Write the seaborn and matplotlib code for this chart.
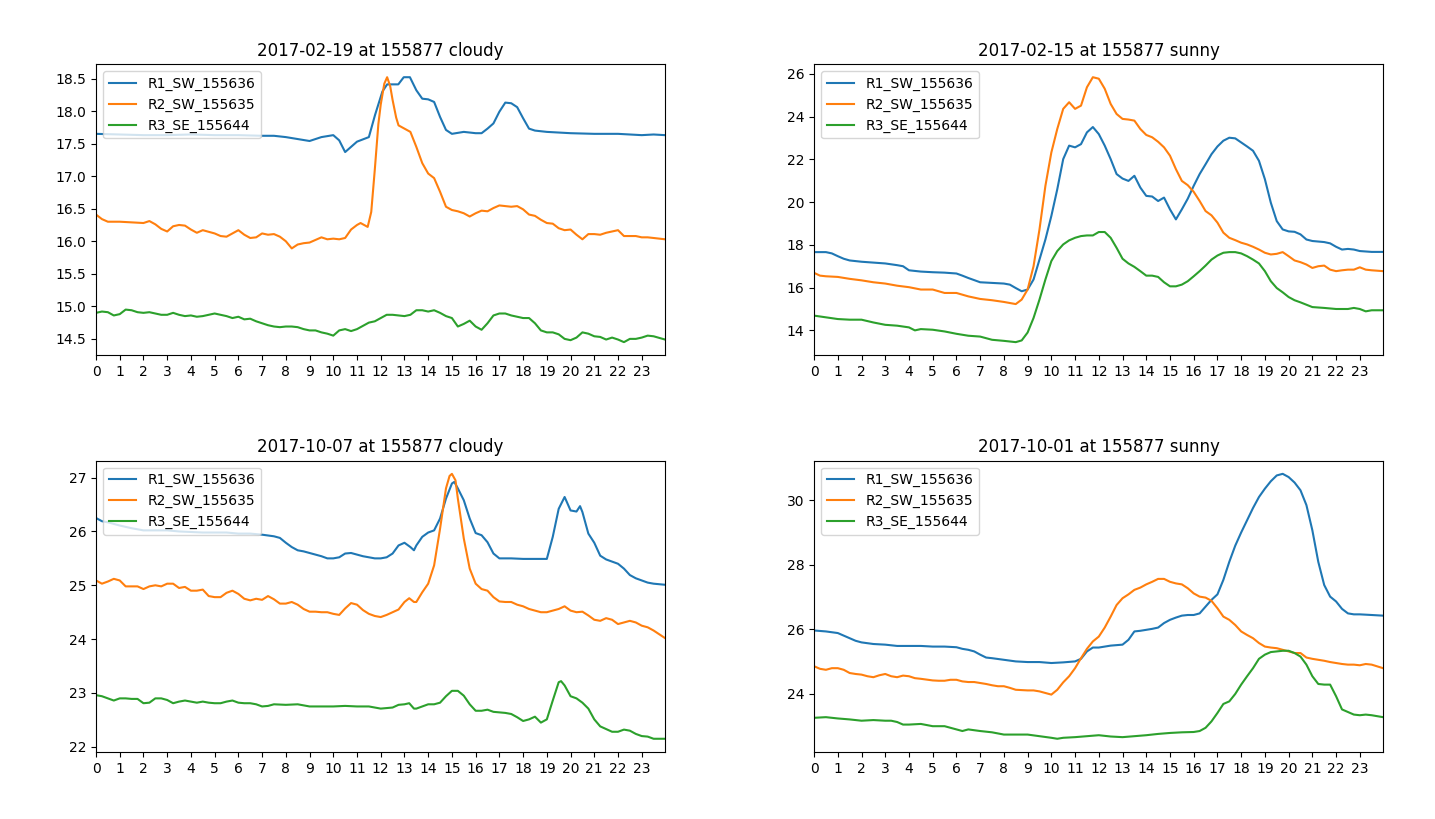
import numpy as np
import pandas as pd
import matplotlib
matplotlib.use("Agg")
import matplotlib.pyplot as plt
import seaborn as sns

SERIES_NAMES = ["R1_SW_155636", "R2_SW_155635", "R3_SE_155644"]
TITLES = ["2017-02-19 at 155877 cloudy", "2017-02-15 at 155877 sunny",
          "2017-10-07 at 155877 cloudy", "2017-10-01 at 155877 sunny"]
HOUR_TICKS = list(range(24))

# ---- Panel 1: 2017-02-19 cloudy  (hour, value) ----
P1_R1 = [(0, 17.65), (1, 17.64), (2, 17.63), (3, 17.63), (4, 17.64), (5, 17.63), (6, 17.63),
         (7, 17.62), (7.5, 17.62), (8, 17.60), (8.5, 17.57), (9, 17.54), (9.5, 17.60), (10, 17.63),
         (10.25, 17.55), (10.5, 17.37), (11, 17.53), (11.5, 17.60), (11.76, 17.94), (12.07, 18.30),
         (12.27, 18.41), (12.5, 18.41), (12.74, 18.41), (12.97, 18.52), (13.23, 18.52), (13.5, 18.32),
         (13.75, 18.19), (14, 18.18), (14.25, 18.14), (14.5, 17.91), (14.75, 17.71), (15, 17.65),
         (15.5, 17.68), (16, 17.66), (16.25, 17.66), (16.5, 17.73), (16.75, 17.81), (17, 17.99),
         (17.25, 18.13), (17.5, 18.12), (17.75, 18.06), (18, 17.89), (18.25, 17.73), (18.5, 17.70),
         (19, 17.68), (20, 17.66), (21, 17.65), (22, 17.65), (23, 17.63), (23.5, 17.64), (23.98, 17.63)]
P1_R2 = [(0, 16.41), (0.25, 16.34), (0.5, 16.30), (1, 16.30), (1.5, 16.29), (2, 16.28), (2.25, 16.31),
         (2.5, 16.26), (2.75, 16.19), (3, 16.15), (3.25, 16.23), (3.5, 16.25), (3.75, 16.24), (4, 16.18),
         (4.25, 16.13), (4.5, 16.17), (5, 16.12), (5.25, 16.08), (5.5, 16.07), (5.75, 16.12), (6, 16.17),
         (6.25, 16.10), (6.5, 16.05), (6.75, 16.06), (7, 16.12), (7.25, 16.10), (7.5, 16.11), (7.75, 16.07),
         (8, 16.00), (8.25, 15.89), (8.5, 15.95), (8.75, 15.97), (9, 15.98), (9.25, 16.02), (9.5, 16.06),
         (9.75, 16.03), (10, 16.04), (10.25, 16.03), (10.5, 16.05), (10.75, 16.18), (11, 16.25),
         (11.15, 16.28), (11.45, 16.22), (11.6, 16.45), (11.75, 17.10), (11.9, 17.80), (12.0, 18.10),
         (12.15, 18.42), (12.27, 18.52), (12.4, 18.38), (12.5, 18.17), (12.65, 17.90), (12.75, 17.78),
         (13, 17.73), (13.25, 17.68), (13.5, 17.45), (13.75, 17.20), (14, 17.04), (14.25, 16.97),
         (14.5, 16.76), (14.75, 16.53), (15, 16.48), (15.25, 16.46), (15.5, 16.43), (15.75, 16.38),
         (16, 16.43), (16.25, 16.47), (16.5, 16.46), (16.75, 16.51), (17, 16.55), (17.25, 16.54),
         (17.5, 16.53), (17.75, 16.54), (18, 16.49), (18.25, 16.41), (18.5, 16.39), (18.75, 16.33),
         (19, 16.28), (19.25, 16.27), (19.5, 16.20), (19.75, 16.17), (20, 16.18), (20.25, 16.10),
         (20.5, 16.03), (20.75, 16.11), (21, 16.11), (21.25, 16.10), (21.5, 16.13), (21.75, 16.15),
         (22, 16.17), (22.25, 16.08), (22.5, 16.08), (22.75, 16.08), (23, 16.06), (23.25, 16.06),
         (23.5, 16.05), (23.98, 16.03)]
P1_R3 = [(0, 14.90), (0.25, 14.92), (0.5, 14.91), (0.75, 14.86), (1, 14.88), (1.25, 14.95), (1.5, 14.94),
         (1.75, 14.91), (2, 14.90), (2.25, 14.91), (2.5, 14.89), (2.75, 14.87), (3, 14.87), (3.25, 14.90),
         (3.5, 14.87), (3.75, 14.85), (4, 14.86), (4.25, 14.84), (4.5, 14.85), (4.75, 14.87), (5, 14.89),
         (5.25, 14.87), (5.5, 14.85), (5.75, 14.82), (6, 14.84), (6.25, 14.80), (6.5, 14.81), (6.75, 14.77),
         (7, 14.74), (7.25, 14.71), (7.5, 14.69), (7.75, 14.68), (8, 14.69), (8.25, 14.69), (8.5, 14.68),
         (8.75, 14.65), (9, 14.63), (9.25, 14.63), (9.5, 14.60), (9.75, 14.58), (10, 14.55), (10.25, 14.63),
         (10.5, 14.65), (10.75, 14.62), (11, 14.65), (11.25, 14.70), (11.5, 14.75), (11.75, 14.77),
         (12, 14.82), (12.25, 14.87), (12.5, 14.87), (12.75, 14.86), (13, 14.85), (13.25, 14.87),
         (13.5, 14.94), (13.75, 14.94), (14, 14.92), (14.25, 14.94), (14.5, 14.90), (14.75, 14.85),
         (15, 14.82), (15.25, 14.69), (15.5, 14.73), (15.75, 14.78), (16, 14.69), (16.25, 14.64),
         (16.5, 14.74), (16.75, 14.86), (17, 14.89), (17.25, 14.89), (17.5, 14.86), (17.75, 14.84),
         (18, 14.82), (18.25, 14.82), (18.5, 14.74), (18.75, 14.63), (19, 14.60), (19.25, 14.60),
         (19.5, 14.57), (19.75, 14.50), (20, 14.48), (20.25, 14.52), (20.5, 14.60), (20.75, 14.58),
         (21, 14.54), (21.25, 14.53), (21.5, 14.49), (21.75, 14.52), (22, 14.49), (22.25, 14.45),
         (22.5, 14.50), (22.75, 14.50), (23, 14.52), (23.25, 14.55), (23.5, 14.54), (23.98, 14.49)]

# ---- Panel 2: 2017-02-15 sunny ----
P2_R1 = [(0, 17.66), (0.5, 17.66), (0.75, 17.60), (1, 17.47), (1.25, 17.35), (1.5, 17.27), (2, 17.21),
         (2.5, 17.17), (3, 17.13), (3.5, 17.05), (3.75, 17.00), (4, 16.81), (4.5, 16.75), (5, 16.72),
         (5.5, 16.70), (6, 16.66), (6.25, 16.56), (6.5, 16.45), (7, 16.25), (7.5, 16.22), (8, 16.19),
         (8.25, 16.14), (8.5, 15.98), (8.75, 15.83), (9, 15.91), (9.25, 16.38), (9.5, 17.31), (9.75, 18.25),
         (10, 19.35), (10.25, 20.60), (10.5, 22.01), (10.75, 22.64), (11, 22.56), (11.25, 22.71),
         (11.5, 23.26), (11.75, 23.51), (12, 23.18), (12.25, 22.64), (12.5, 22.01), (12.75, 21.31),
         (13, 21.10), (13.25, 20.99), (13.5, 21.23), (13.75, 20.68), (14, 20.29), (14.25, 20.26),
         (14.5, 20.05), (14.75, 20.21), (15, 19.66), (15.25, 19.19), (15.5, 19.66), (15.75, 20.16),
         (16, 20.76), (16.25, 21.31), (16.5, 21.77), (16.75, 22.24), (17, 22.60), (17.25, 22.87),
         (17.5, 23.01), (17.75, 22.98), (18, 22.79), (18.25, 22.60), (18.5, 22.40), (18.75, 21.93),
         (19, 21.07), (19.25, 19.97), (19.5, 19.11), (19.75, 18.72), (20, 18.63), (20.25, 18.61),
         (20.5, 18.49), (20.75, 18.25), (21, 18.18), (21.5, 18.13), (21.75, 18.07), (22, 17.91),
         (22.25, 17.78), (22.5, 17.81), (22.75, 17.78), (23, 17.71), (23.5, 17.67), (23.98, 17.67)]
P2_R2 = [(0, 16.69), (0.25, 16.56), (0.5, 16.53), (1, 16.50), (1.5, 16.41), (2, 16.34), (2.5, 16.25),
         (3, 16.19), (3.5, 16.09), (4, 16.02), (4.5, 15.91), (5, 15.91), (5.5, 15.75), (6, 15.75),
         (6.5, 15.59), (7, 15.47), (7.5, 15.41), (8, 15.33), (8.5, 15.23), (8.75, 15.44), (9, 15.91),
         (9.25, 17.00), (9.5, 18.72), (9.75, 20.76), (10, 22.32), (10.25, 23.42), (10.5, 24.36),
         (10.75, 24.67), (11, 24.36), (11.25, 24.51), (11.5, 25.37), (11.75, 25.84), (12, 25.77),
         (12.25, 25.30), (12.5, 24.59), (12.75, 24.12), (13, 23.89), (13.25, 23.86), (13.5, 23.81),
         (13.75, 23.42), (14, 23.14), (14.25, 23.03), (14.5, 22.82), (14.75, 22.56), (15, 22.17),
         (15.25, 21.54), (15.5, 20.99), (15.75, 20.79), (16, 20.48), (16.25, 20.05), (16.5, 19.58),
         (16.75, 19.38), (17, 19.04), (17.25, 18.57), (17.5, 18.33), (17.75, 18.22), (18, 18.10),
         (18.25, 18.02), (18.5, 17.91), (18.75, 17.78), (19, 17.63), (19.25, 17.55), (19.5, 17.58),
         (19.75, 17.66), (20, 17.47), (20.25, 17.27), (20.5, 17.19), (20.75, 17.08), (21, 16.92),
         (21.25, 17.00), (21.5, 17.03), (21.75, 16.84), (22, 16.77), (22.25, 16.81), (22.5, 16.84),
         (22.75, 16.84), (23, 16.95), (23.25, 16.84), (23.5, 16.81), (23.98, 16.77)]
P2_R3 = [(0, 14.69), (0.5, 14.61), (1, 14.53), (1.5, 14.50), (2, 14.50), (2.5, 14.37), (3, 14.26),
         (3.5, 14.22), (4, 14.14), (4.25, 14.00), (4.5, 14.06), (5, 14.03), (5.5, 13.95), (6, 13.84),
         (6.5, 13.75), (7, 13.71), (7.5, 13.56), (8, 13.51), (8.5, 13.45), (8.75, 13.53), (9, 13.90),
         (9.25, 14.58), (9.5, 15.44), (9.75, 16.38), (10, 17.24), (10.25, 17.71), (10.5, 18.02),
         (10.75, 18.21), (11, 18.33), (11.25, 18.41), (11.5, 18.44), (11.75, 18.44), (12, 18.60),
         (12.25, 18.60), (12.5, 18.33), (12.75, 17.86), (13, 17.35), (13.25, 17.13), (13.5, 16.97),
         (13.75, 16.77), (14, 16.56), (14.25, 16.56), (14.5, 16.50), (14.75, 16.25), (15, 16.06),
         (15.25, 16.06), (15.5, 16.14), (15.75, 16.30), (16, 16.53), (16.25, 16.77), (16.5, 17.03),
         (16.75, 17.31), (17, 17.50), (17.25, 17.63), (17.5, 17.66), (17.75, 17.66), (18, 17.60),
         (18.25, 17.47), (18.5, 17.31), (18.75, 17.13), (19, 16.77), (19.25, 16.30), (19.5, 15.98),
         (19.75, 15.78), (20, 15.56), (20.25, 15.41), (20.5, 15.31), (20.75, 15.20), (21, 15.09),
         (21.5, 15.05), (22, 15.00), (22.5, 15.00), (22.75, 15.05), (23, 15.00), (23.25, 14.89),
         (23.5, 14.94), (23.98, 14.94)]

# ---- Panel 3: 2017-10-07 cloudy ----
P3_R1 = [(0, 26.25), (0.25, 26.19), (0.5, 26.17), (1, 26.11), (1.5, 26.06), (2, 26.02), (2.5, 26.02),
         (3, 26.02), (3.5, 26.00), (4, 25.99), (4.5, 25.98), (5, 25.98), (5.5, 25.98), (6, 25.96),
         (6.5, 25.96), (7, 25.94), (7.5, 25.91), (7.75, 25.88), (8, 25.79), (8.25, 25.71), (8.5, 25.65),
         (8.75, 25.63), (9, 25.60), (9.25, 25.57), (9.5, 25.54), (9.75, 25.50), (10, 25.50), (10.25, 25.52),
         (10.5, 25.59), (10.75, 25.60), (11, 25.57), (11.25, 25.54), (11.5, 25.52), (11.75, 25.50),
         (12, 25.50), (12.25, 25.52), (12.5, 25.59), (12.75, 25.74), (13, 25.79), (13.25, 25.71),
         (13.4, 25.65), (13.5, 25.74), (13.75, 25.90), (14, 25.98), (14.25, 26.02), (14.5, 26.24),
         (14.75, 26.61), (15, 26.89), (15.1, 26.92), (15.25, 26.80), (15.5, 26.58), (15.75, 26.24),
         (16, 25.97), (16.25, 25.93), (16.5, 25.80), (16.75, 25.59), (17, 25.50), (17.5, 25.50),
         (18, 25.49), (18.5, 25.49), (19, 25.49), (19.25, 25.90), (19.5, 26.42), (19.75, 26.64),
         (20, 26.39), (20.25, 26.37), (20.4, 26.47), (20.5, 26.36), (20.75, 25.96), (21, 25.79),
         (21.25, 25.55), (21.5, 25.48), (21.75, 25.44), (22, 25.40), (22.25, 25.31), (22.5, 25.19),
         (22.75, 25.13), (23, 25.09), (23.25, 25.05), (23.5, 25.03), (23.98, 25.01)]
P3_R2 = [(0, 25.09), (0.25, 25.03), (0.5, 25.07), (0.75, 25.12), (1, 25.09), (1.25, 24.98), (1.5, 24.98),
         (1.75, 24.98), (2, 24.93), (2.25, 24.98), (2.5, 25.00), (2.75, 24.98), (3, 25.03), (3.25, 25.03),
         (3.5, 24.95), (3.75, 24.97), (4, 24.90), (4.25, 24.90), (4.5, 24.92), (4.75, 24.80), (5, 24.78),
         (5.25, 24.78), (5.5, 24.86), (5.75, 24.90), (6, 24.84), (6.25, 24.75), (6.5, 24.72), (6.75, 24.75),
         (7, 24.73), (7.25, 24.80), (7.5, 24.74), (7.75, 24.66), (8, 24.66), (8.25, 24.69), (8.5, 24.64),
         (8.75, 24.56), (9, 24.51), (9.25, 24.51), (9.5, 24.50), (9.75, 24.50), (10, 24.47), (10.25, 24.45),
         (10.5, 24.57), (10.75, 24.67), (11, 24.64), (11.25, 24.54), (11.5, 24.47), (11.75, 24.43),
         (12, 24.41), (12.25, 24.45), (12.5, 24.50), (12.75, 24.55), (13, 24.69), (13.2, 24.76),
         (13.4, 24.69), (13.5, 24.69), (13.75, 24.87), (14, 25.03), (14.25, 25.37), (14.5, 26.05),
         (14.75, 26.80), (14.9, 27.03), (15, 27.07), (15.15, 26.95), (15.25, 26.61), (15.5, 25.87),
         (15.75, 25.31), (16, 25.03), (16.25, 24.93), (16.5, 24.90), (16.75, 24.78), (17, 24.70),
         (17.25, 24.69), (17.5, 24.69), (17.75, 24.64), (18, 24.61), (18.25, 24.56), (18.5, 24.53),
         (18.75, 24.50), (19, 24.50), (19.25, 24.53), (19.5, 24.56), (19.75, 24.61), (20, 24.53),
         (20.25, 24.50), (20.5, 24.51), (20.75, 24.44), (21, 24.36), (21.25, 24.34), (21.5, 24.39),
         (21.75, 24.36), (22, 24.28), (22.25, 24.31), (22.5, 24.34), (22.75, 24.31), (23, 24.25),
         (23.25, 24.22), (23.5, 24.16), (23.98, 24.02)]
P3_R3 = [(0, 22.96), (0.25, 22.94), (0.5, 22.90), (0.75, 22.86), (1, 22.90), (1.25, 22.90), (1.5, 22.89),
         (1.75, 22.89), (2, 22.81), (2.25, 22.82), (2.5, 22.90), (2.75, 22.90), (3, 22.87), (3.25, 22.81),
         (3.5, 22.84), (3.75, 22.86), (4, 22.84), (4.25, 22.82), (4.5, 22.84), (4.75, 22.82), (5, 22.81),
         (5.25, 22.81), (5.5, 22.84), (5.75, 22.86), (6, 22.82), (6.25, 22.81), (6.5, 22.81), (6.75, 22.79),
         (7, 22.75), (7.25, 22.76), (7.5, 22.79), (8, 22.78), (8.5, 22.79), (9, 22.75), (9.5, 22.75),
         (10, 22.75), (10.5, 22.76), (11, 22.75), (11.5, 22.75), (12, 22.71), (12.25, 22.72), (12.5, 22.73),
         (12.75, 22.78), (13, 22.79), (13.2, 22.81), (13.4, 22.71), (13.5, 22.71), (13.75, 22.75),
         (14, 22.79), (14.25, 22.79), (14.5, 22.82), (14.75, 22.94), (15, 23.04), (15.25, 23.04),
         (15.5, 22.95), (15.75, 22.79), (16, 22.67), (16.25, 22.67), (16.5, 22.69), (16.75, 22.65),
         (17, 22.64), (17.25, 22.63), (17.5, 22.61), (17.75, 22.55), (18, 22.48), (18.25, 22.51),
         (18.5, 22.56), (18.75, 22.45), (19, 22.51), (19.25, 22.86), (19.5, 23.20), (19.6, 23.22),
         (19.75, 23.14), (20, 22.94), (20.25, 22.90), (20.5, 22.82), (20.75, 22.71), (21, 22.51),
         (21.25, 22.38), (21.5, 22.33), (21.75, 22.28), (22, 22.28), (22.25, 22.32), (22.5, 22.30),
         (22.75, 22.24), (23, 22.20), (23.25, 22.19), (23.5, 22.15), (23.98, 22.15)]

# ---- Panel 4: 2017-10-01 sunny ----
P4_R1 = [(0, 25.96), (0.5, 25.93), (1, 25.88), (1.25, 25.80), (1.5, 25.72), (1.75, 25.64), (2, 25.59),
         (2.5, 25.54), (3, 25.52), (3.5, 25.48), (4, 25.48), (4.5, 25.48), (5, 25.46), (5.5, 25.46),
         (6, 25.44), (6.25, 25.39), (6.5, 25.36), (6.75, 25.31), (7, 25.21), (7.25, 25.12), (7.5, 25.10),
         (8, 25.05), (8.5, 25.00), (9, 24.98), (9.5, 24.98), (10, 24.95), (10.5, 24.97), (11, 25.00),
         (11.25, 25.08), (11.5, 25.31), (11.75, 25.43), (12, 25.43), (12.5, 25.49), (13, 25.52),
         (13.25, 25.67), (13.5, 25.93), (13.75, 25.95), (14, 25.98), (14.25, 26.01), (14.5, 26.05),
         (14.75, 26.19), (15, 26.29), (15.25, 26.36), (15.5, 26.42), (15.75, 26.44), (16, 26.44),
         (16.25, 26.49), (16.5, 26.70), (16.75, 26.91), (17, 27.08), (17.25, 27.53), (17.5, 28.09),
         (17.75, 28.59), (18, 29.00), (18.25, 29.38), (18.5, 29.76), (18.75, 30.10), (19, 30.36),
         (19.25, 30.59), (19.5, 30.77), (19.75, 30.82), (20, 30.72), (20.25, 30.55), (20.5, 30.31),
         (20.75, 29.85), (21, 29.07), (21.25, 28.09), (21.5, 27.37), (21.75, 27.01), (22, 26.86),
         (22.25, 26.63), (22.5, 26.49), (22.75, 26.46), (23, 26.46), (23.5, 26.44), (23.98, 26.42)]
P4_R2 = [(0, 24.85), (0.25, 24.77), (0.5, 24.74), (0.75, 24.79), (1, 24.79), (1.25, 24.74), (1.5, 24.64),
         (1.75, 24.61), (2, 24.59), (2.25, 24.54), (2.5, 24.51), (2.75, 24.57), (3, 24.61), (3.25, 24.54),
         (3.5, 24.51), (3.75, 24.56), (4, 24.54), (4.25, 24.48), (4.5, 24.46), (5, 24.41), (5.25, 24.40),
         (5.5, 24.40), (5.75, 24.43), (6, 24.43), (6.25, 24.38), (6.5, 24.36), (6.75, 24.36), (7, 24.33),
         (7.25, 24.30), (7.5, 24.26), (7.75, 24.23), (8, 24.23), (8.25, 24.18), (8.5, 24.12), (8.75, 24.11),
         (9, 24.10), (9.25, 24.10), (9.5, 24.07), (9.75, 24.02), (10, 23.97), (10.25, 24.12), (10.5, 24.35),
         (10.75, 24.54), (11, 24.79), (11.25, 25.10), (11.5, 25.39), (11.75, 25.62), (12, 25.77),
         (12.25, 26.05), (12.5, 26.39), (12.75, 26.75), (13, 26.96), (13.25, 27.08), (13.5, 27.22),
         (13.75, 27.29), (14, 27.39), (14.25, 27.47), (14.5, 27.56), (14.75, 27.56), (15, 27.47),
         (15.25, 27.42), (15.5, 27.39), (15.75, 27.27), (16, 27.11), (16.25, 27.01), (16.5, 26.98),
         (16.75, 26.88), (17, 26.65), (17.25, 26.39), (17.5, 26.29), (17.75, 26.13), (18, 25.93),
         (18.25, 25.82), (18.5, 25.72), (18.75, 25.57), (19, 25.46), (19.25, 25.43), (19.5, 25.41),
         (19.75, 25.36), (20, 25.31), (20.25, 25.26), (20.5, 25.26), (20.75, 25.12), (21, 25.08),
         (21.25, 25.05), (21.5, 25.02), (21.75, 24.98), (22, 24.95), (22.25, 24.92), (22.5, 24.90),
         (22.75, 24.90), (23, 24.88), (23.25, 24.92), (23.5, 24.90), (23.98, 24.79)]
P4_R3 = [(0, 23.25), (0.5, 23.27), (1, 23.23), (1.5, 23.20), (2, 23.16), (2.5, 23.18), (3, 23.16),
         (3.25, 23.16), (3.5, 23.12), (3.75, 23.04), (4, 23.04), (4.5, 23.06), (5, 22.99), (5.5, 22.99),
         (6, 22.89), (6.25, 22.84), (6.5, 22.89), (7, 22.84), (7.5, 22.80), (8, 22.73), (8.5, 22.73),
         (9, 22.73), (9.5, 22.68), (10, 22.63), (10.25, 22.60), (10.5, 22.63), (11, 22.65), (11.5, 22.68),
         (12, 22.71), (12.5, 22.67), (13, 22.65), (13.5, 22.68), (14, 22.71), (14.5, 22.75), (15, 22.78),
         (15.5, 22.80), (16, 22.81), (16.25, 22.84), (16.5, 22.94), (16.75, 23.14), (17, 23.40),
         (17.25, 23.68), (17.5, 23.76), (17.75, 23.99), (18, 24.28), (18.25, 24.54), (18.5, 24.79),
         (18.75, 25.08), (19, 25.21), (19.25, 25.29), (19.5, 25.31), (19.75, 25.33), (20, 25.33),
         (20.25, 25.26), (20.5, 25.15), (20.75, 24.90), (21, 24.54), (21.25, 24.30), (21.5, 24.28),
         (21.75, 24.28), (22, 23.92), (22.25, 23.51), (22.5, 23.43), (22.75, 23.35), (23, 23.33),
         (23.25, 23.35), (23.5, 23.33), (23.98, 23.27)]

PANELS = [[P1_R1, P1_R2, P1_R3], [P2_R1, P2_R2, P2_R3],
          [P3_R1, P3_R2, P3_R3], [P4_R1, P4_R2, P4_R3]]
COLORS = sns.color_palette("tab10", 3)

fig, axes = plt.subplots(2, 2, figsize=(14.35, 8.19), dpi=100)
fig.subplots_adjust(left=0.0669, right=0.9638, top=0.9219, bottom=0.0818,
                    wspace=0.262, hspace=0.361)

for ax, title, series in zip(axes.flat, TITLES, PANELS):
    for name, pts, col in zip(SERIES_NAMES, series, COLORS):
        df = pd.DataFrame(pts, columns=["hour", "value"])
        sns.lineplot(data=df, x="hour", y="value", ax=ax, color=col,
                     label=name, linewidth=1.5, estimator=None, sort=True)
    ax.set_title(title, fontsize=12)
    ax.set_xlim(0, 23.98)
    ax.set_xticks(HOUR_TICKS)
    ax.set_xticklabels([str(h) for h in HOUR_TICKS])
    ax.set_xlabel("")
    ax.set_ylabel("")
    ax.legend(loc="upper left", fontsize=10)

fig.savefig("out.png", dpi=100)
